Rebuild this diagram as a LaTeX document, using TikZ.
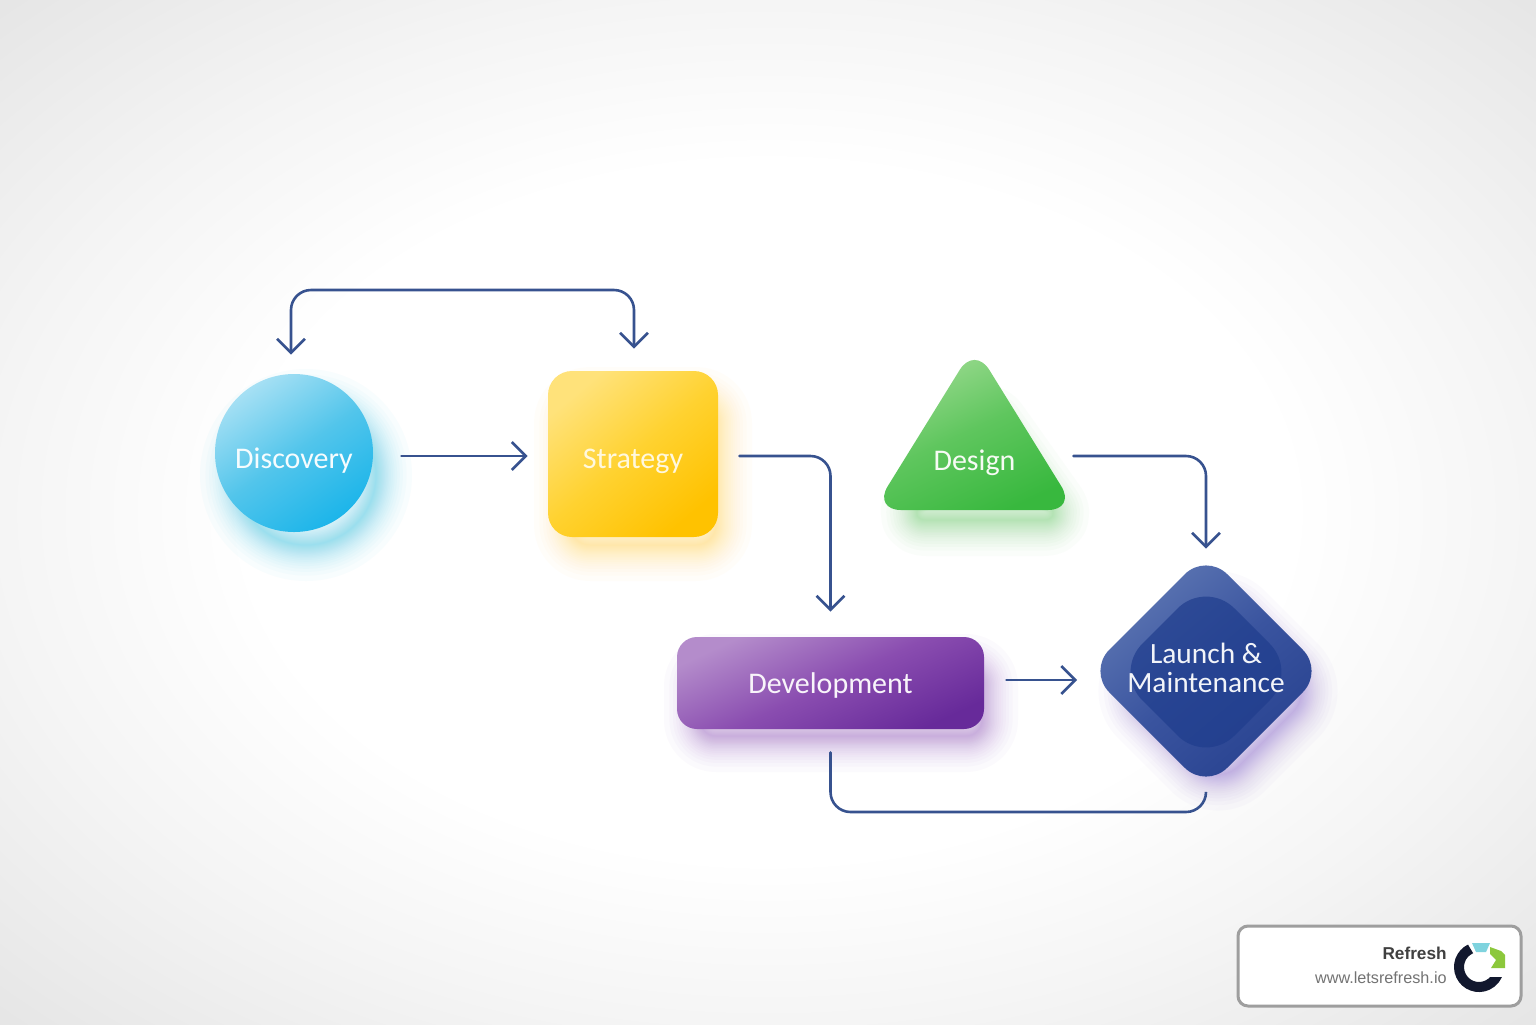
\documentclass[tikz,border=0pt]{standalone}
\usepackage{fontspec}
\setmainfont{Carlito}
\newfontfamily\badgefont{Liberation Sans}
\usetikzlibrary{arrows.meta,calc}
\definecolor{linkblue}{HTML}{37528F}
\definecolor{discA}{HTML}{A6E0F4}\definecolor{discM}{HTML}{52C5EB}\definecolor{discB}{HTML}{1CB5EA}
\definecolor{stratA}{HTML}{FFE27A}\definecolor{stratM}{HTML}{FFD230}\definecolor{stratB}{HTML}{FFC200}
\definecolor{desA}{HTML}{A0DC94}\definecolor{desM}{HTML}{5FC65E}\definecolor{desB}{HTML}{38B83E}
\definecolor{devA}{HTML}{B48CCB}\definecolor{devM}{HTML}{8A4DB0}\definecolor{devB}{HTML}{672A9A}
\definecolor{lnA}{HTML}{5F78B4}\definecolor{lnM}{HTML}{3A549F}\definecolor{lnB}{HTML}{27418F}
\definecolor{lnIn}{HTML}{1F3D8D}
\definecolor{glowC}{HTML}{3CC8EE}\definecolor{glowY}{HTML}{FFD85A}\definecolor{glowG}{HTML}{6FD070}
\definecolor{glowV}{HTML}{9A62C4}\definecolor{glowL}{HTML}{8E6CD0}
\definecolor{logoD}{HTML}{12182E}\definecolor{logoT}{HTML}{7FD3DE}\definecolor{logoG}{HTML}{8CC83C}
\pgfdeclareradialshading{bgshade}{\pgfpoint{0bp}{0bp}}{%
 color(0bp)=(white); color(17bp)=(white); color(25bp)=(white!96!black); color(35.4bp)=(white!90!black); color(50bp)=(white!90!black)}
\newcommand\softglow[3]{%
 \foreach \w in {0.5,1.4,2.4,3.4,4.4,5.5,6.6,7.7,8.9,10.3,11.8,13.2,14.9,16.8,18.7,21.1,23.8,26.9,30.6,36} {\path[draw=#1,line join=round,opacity=#2,line width=\w pt] #3;}}
\tikzset{
 x=0.5pt,y=-0.5pt,
 link/.style={draw=linkblue,line width=1.3pt,rounded corners=10pt,line cap=round,
   >={Straight Barb[length=7pt,width=14pt,line width=1.3pt]}},
 label/.style={font=\fontsize{15}{14.5}\selectfont,align=center,inner sep=0pt},
 anchorbox/.style={rectangle,inner sep=0pt,draw=none,fill=none},
}
\newcommand\shifted[2]{\raisebox{#1}[\height][\depth]{#2}}
\begin{document}
\begin{tikzpicture}
\useasboundingbox (0,0) rectangle (1536,1024);
\path[shading=bgshade] (0,0) rectangle (1536,1024);

% glows
\begin{scope}[shift={(12,22)}]
 \softglow{glowC}{.032}{(294,453) circle[radius=70]}
\end{scope}
\begin{scope}[shift={(10,20)}]
 \softglow{glowY}{.032}{[rounded corners=10pt] (560,383) rectangle (706,525)}
\end{scope}
\begin{scope}[shift={(10,18)}]
 \softglow{glowG}{.03}{[rounded corners=8pt] (974,395) -- (1050,502) -- (900,502) -- cycle}
\end{scope}
\begin{scope}[shift={(10,20)}]
 \softglow{glowV}{.03}{[rounded corners=8pt] (690,650) rectangle (972,716)}
\end{scope}
\begin{scope}[shift={(12,20)}]
 \softglow{glowL}{.03}{[rounded corners=15pt] (1206,575) -- (1302,671) -- (1206,767) -- (1110,671) -- cycle}
\end{scope}

% shapes
\node[circle,minimum size=79pt,inner sep=0pt,top color=discA,bottom color=discB,middle color=discM,shading angle=35,text=white!90!discA,label] (disc) at (294,453) {\shifted{-4pt}{Discovery}};
\node[rectangle,rounded corners=12pt,minimum width=85pt,minimum height=83pt,inner sep=0pt,top color=stratA,bottom color=stratB,middle color=stratM,shading angle=40,text=white!75!stratA,label] (strat) at (633,454) {\shifted{-3.5pt}{Strategy}};
\node[rectangle,rounded corners=10pt,minimum width=153.5pt,minimum height=46pt,inner sep=0pt,top color=devA,bottom color=devB,middle color=devM,shading angle=25,text=white!90!devA,label] (dev) at (830.5,683) {\shifted{-1pt}{Development}};

\path[rounded corners=14pt,top color=desA,bottom color=desB,middle color=desM,shading angle=25]
  (974.5,346) -- (1076,510) -- (873,510) -- cycle;
\node[anchorbox,minimum width=89.5pt,minimum height=75pt,label,text=white!90!desA] (design) at (974.5,435) {\shifted{-14pt}{Design}};

\path[rounded corners=15pt,top color=lnA,bottom color=lnB,middle color=lnM,shading angle=40]
  (1206,553) -- (1324,671) -- (1206,789) -- (1088,671) -- cycle;
\path[rounded corners=20pt,fill=lnIn,opacity=.7]
  (1206,580) -- (1298,672) -- (1206,764) -- (1114,672) -- cycle;
\node[anchorbox,minimum width=105.5pt,minimum height=106pt,font=\fontsize{14.7}{14.5}\selectfont,align=center,inner sep=0pt,text=white!92!lnA] (launch) at (1206,671) {\shifted{-0.5pt}{\begin{tabular}{@{}c@{}}Launch \&\\[-0.3pt]Maintenance\end{tabular}}};

% connectors
\coordinate (toprail) at (0,290);
\coordinate (botrail) at (0,812);
\coordinate (discport) at ([yshift=-1.5pt]disc.east);
\coordinate (stratport) at ([yshift=-1pt]strat.east);
\coordinate (devport) at ([yshift=1.5pt]dev.east);
\coordinate (discnorth) at ([xshift=-1.5pt]disc.north);
\coordinate (stratnorth) at ([xshift=0.5pt]strat.north);
\draw[link,<->,shorten <=9.5pt,shorten >=11pt]
  (discnorth) -- (discnorth |- toprail) -- (stratnorth |- toprail) -- (stratnorth);
\draw[link,->,shorten <=14pt,shorten >=10pt] (discport) -- (strat.west |- discport);
\draw[link,->,shorten <=10.5pt,shorten >=12.5pt] (stratport) -| (dev.north);
\draw[link,->,shorten <=4.5pt,shorten >=8pt] (design.east |- stratport) -| (launch.north);
\draw[link,->,shorten <=11pt,shorten >=11.5pt] (devport) -- (launch.west |- devport);
\draw[link,shorten <=11.5pt,shorten >=7.5pt] (dev.south) -- (dev.south |- botrail) -- (launch.south |- botrail) -- (launch.south);

% badge
\node[rectangle,rounded corners=5pt,draw=black!38,line width=1.5pt,fill=white,minimum width=141.5pt,minimum height=40pt,inner sep=0pt] (badge) at (1379.5,966) {};
\node[anchor=east,inner sep=0pt,font=\badgefont\bfseries\fontsize{8.6}{11}\selectfont,text=black!75] (brand) at (1447,953.5) {Refresh};
\node[anchor=east,inner sep=0pt,font=\badgefont\fontsize{8.1}{10}\selectfont,text=black!55] (url) at (1447,978) {www.letsrefresh.io};
\begin{scope}
 \clip (1450,935) rectangle (1479,1000) (1479,977) rectangle (1505,1000);
 \draw[line width=5pt,draw=logoD] (1479,967) ++(-115:20) arc[start angle=-115,end angle=-350,radius=20];
\end{scope}
\fill[logoT] (1472,943) -- (1490,943) -- (1486,952) -- (1476,952) -- cycle;
\fill[logoG] (1490,947) -- (1501,951) -- (1505,955) -- (1505,968) -- (1491,968) -- (1496,960) -- (1490,954) -- cycle;
\end{tikzpicture}
\end{document}
